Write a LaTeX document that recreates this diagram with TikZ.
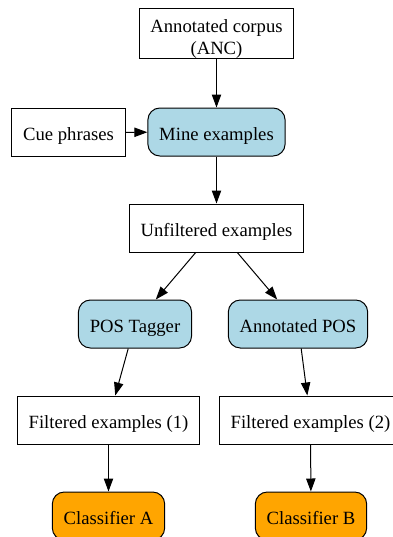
\documentclass[tikz,border=0pt]{standalone}
\usepackage{fontspec}
\setmainfont{Liberation Serif}
\usepackage{xcolor}
\usepackage{tikz}
\usetikzlibrary{arrows.meta, positioning}

\definecolor{boxblue}{RGB}{173,216,230}
\definecolor{boxorange}{RGB}{255,165,0}

\begin{document}
\begin{tikzpicture}[x=0.75pt, y=-0.75pt,
    >={Triangle[length=9.75pt, width=7pt]},
    every node/.style={font=\fontsize{14}{16.2}\selectfont, line width=0.75pt},
    oneline/.style={text height=12.2pt, text depth=0pt},
    databox/.style={draw, rectangle, minimum height=36pt, inner xsep=8.5pt, align=center},
    procbox/.style={draw, rectangle, rounded corners=9pt, minimum height=36pt, inner xsep=8.5pt, fill=boxblue, oneline},
    clfbox/.style={draw, rectangle, rounded corners=9pt, minimum height=36pt, inner xsep=8.5pt, fill=boxorange, oneline},
    link/.style={->, line width=0.75pt}]

    \useasboundingbox (0,0) rectangle (393,537);

    % =================================================================
    % 1. PHẦN TRÊN: NGỮ LIỆU VÀ KHAI THÁC VÍ DỤ
    % =================================================================
    \node[databox, text height=31pt, text depth=0pt] (corpus) at (216.5,33.5) {Annotated corpus\\(ANC)};
    \node[databox, oneline] (cue) at (68.5,132.5) {Cue phrases};
    \node[procbox] (mine) at (216.5,132) {Mine examples};
    \node[databox, oneline] (unfilt) at (216.5,228) {Unfiltered examples};

    % =================================================================
    % 2. HAI NHÁNH GÁN NHÃN TỪ LOẠI
    % =================================================================
    \node[procbox] (tagger) at (135,324) {POS Tagger};
    \node[procbox] (annpos) at (298,324) {Annotated POS};

    \node[databox, oneline] (filtA) at (108.5,420) {Filtered examples (1)};
    \node[databox, oneline] (filtB) at (310.5,420) {Filtered examples (2)};

    % Bộ phân lớp ở cuối
    \node[clfbox] (clfA) at (108.5,516) {Classifier A};
    \node[clfbox] (clfB) at (311,516) {Classifier B};

    % =================================================================
    % 3. CÁC MŨI TÊN NỐI
    % =================================================================
    \draw[link] (corpus) -- (mine);
    \draw[link] (cue) -- (mine);
    \draw[link] (mine) -- (unfilt);
    \draw[link] (unfilt) -- (tagger);
    \draw[link] (unfilt) -- (annpos);
    \draw[link] (tagger) -- (filtA);
    \draw[link] (annpos) -- (filtB);
    \draw[link] (filtA) -- (clfA);
    \draw[link] (filtB) -- (clfB);

\end{tikzpicture}
\end{document}
